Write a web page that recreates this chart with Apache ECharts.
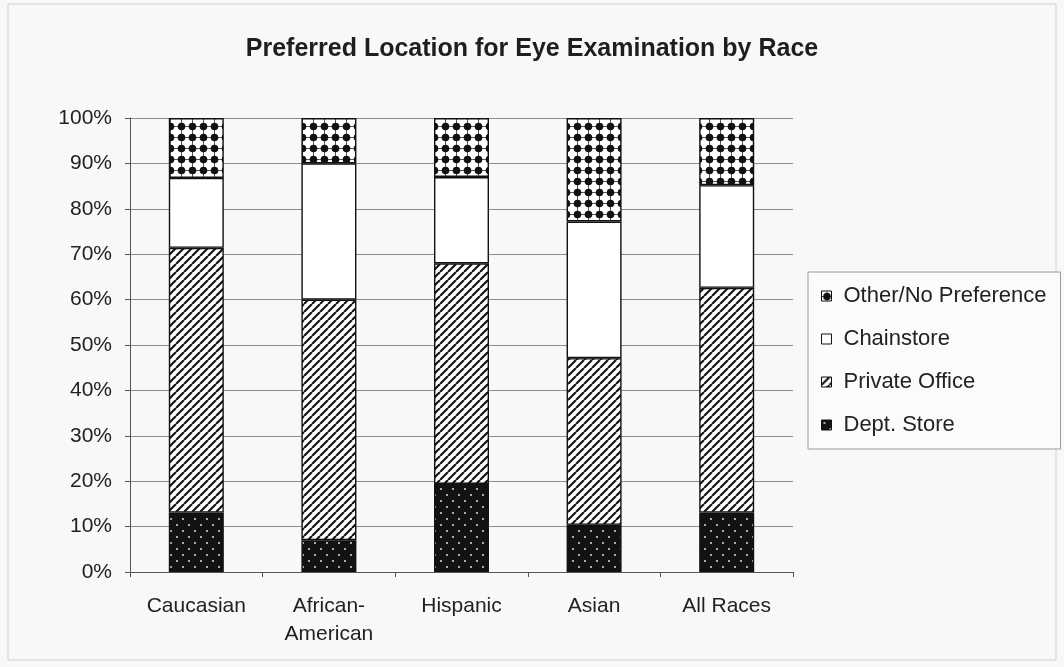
<!DOCTYPE html>
<html>
<head>
<meta charset="utf-8">
<script src="https://cdn.jsdelivr.net/npm/echarts@6/dist/echarts.min.js"></script>
<style>
  html, body { margin: 0; padding: 0; background: #f8f8f8; }
  #chart { width: 1064px; height: 667px; }
</style>
</head>
<body>
<div id="chart"></div>
<script>
// Survey shares (%) per race group
const categories = ['Caucasian', 'African-\nAmerican', 'Hispanic', 'Asian', 'All Races'];
const deptStore = [13.1, 7.0, 19.4, 10.4, 13.1];
const privateOffice = [58.3, 53.0, 48.6, 36.7, 49.5];
const chainstore = [15.4, 30.0, 19.0, 30.1, 22.6];
const otherNoPref = [13.2, 10.0, 13.0, 22.8, 14.8];
const seriesNames = ['Dept. Store', 'Private Office', 'Chainstore', 'Other/No Preference'];
const legendOrder = ['Other/No Preference', 'Chainstore', 'Private Office', 'Dept. Store'];
const yTicks = [0, 10, 20, 30, 40, 50, 60, 70, 80, 90, 100];

// Small canvas tiles used as repeating fills
function tile(w, h, draw) {
  const c = document.createElement('canvas');
  c.width = w; c.height = h;
  draw(c.getContext('2d'), w, h);
  return c;
}

const dotsOnBlack = tile(12, 12, (g, w, h) => {
  g.fillStyle = '#121212'; g.fillRect(0, 0, w, h);
  g.fillStyle = '#d8d8d8';
  [[3, 3], [9, 9]].forEach(([x, y]) => { g.beginPath(); g.arc(x, y, 1.05, 0, Math.PI * 2); g.fill(); });
});

const diagonal = tile(8, 8, (g, w, h) => {
  g.fillStyle = '#ffffff'; g.fillRect(0, 0, w, h);
  g.strokeStyle = '#111'; g.lineWidth = 2.1;
  [-8, 0, 8].forEach(x0 => { g.beginPath(); g.moveTo(x0, h); g.lineTo(x0 + w, 0); g.stroke(); });
});

const blackDots = tile(11, 11, (g, w, h) => {
  g.fillStyle = '#ffffff'; g.fillRect(0, 0, w, h);
  g.strokeStyle = '#555'; g.lineWidth = 1;
  g.beginPath(); g.moveTo(0, 5.5); g.lineTo(w, 5.5); g.moveTo(5.5, 0); g.lineTo(5.5, h); g.stroke();
  g.fillStyle = '#111';
  g.beginPath(); g.arc(5.5, 5.5, 3.8, 0, Math.PI * 2); g.fill();
});

const fills = [
  { image: dotsOnBlack, repeat: 'repeat' },
  { image: diagonal, repeat: 'repeat' },
  '#ffffff',
  { image: blackDots, repeat: 'repeat' }
];
const values = [deptStore, privateOffice, chainstore, otherNoPref];

const chart = echarts.init(document.getElementById('chart'), null, { renderer: 'canvas' });
const font = 'Liberation Sans, Arial, sans-serif';

chart.setOption({
  backgroundColor: '#f8f8f8',
  animation: false,
  title: {
    text: 'Preferred Location for Eye Examination by Race',
    left: 'center',
    top: 32,
    textStyle: { fontFamily: font, fontSize: 25, fontWeight: 'bold', color: '#1e1e1e' }
  },
  graphic: [{
    type: 'rect',
    shape: { x: 8, y: 4, width: 1048, height: 656 },
    style: { fill: 'none', stroke: '#d0d0d0', lineWidth: 1 },
    silent: true
  }],
  legend: {
    data: legendOrder,
    orient: 'vertical',
    left: 808,
    top: 272,
    padding: [13, 14, 13, 13],
    itemGap: 21,
    itemWidth: 10,
    itemHeight: 10,
    icon: 'rect',
    backgroundColor: '#fbfbfb',
    borderColor: '#9a9a9a',
    borderWidth: 1,
    textStyle: { fontFamily: font, fontSize: 22, color: '#222', padding: [0, 0, 0, 7] },
    itemStyle: { borderColor: '#111', borderWidth: 1 }
  },
  grid: { left: 130, right: 271, top: 118, bottom: 95, containLabel: false },
  xAxis: {
    type: 'category',
    data: categories,
    axisLine: { lineStyle: { color: '#555', width: 1 } },
    axisTick: { show: true, alignWithLabel: false, length: 5, lineStyle: { color: '#555' } },
    axisLabel: { fontFamily: font, fontSize: 21, color: '#222', margin: 20, lineHeight: 28 }
  },
  yAxis: {
    type: 'value',
    min: yTicks[0],
    max: yTicks[yTicks.length - 1],
    interval: 10,
    axisLine: { show: true, lineStyle: { color: '#555', width: 1 } },
    axisTick: { show: true, length: 5, lineStyle: { color: '#555' } },
    axisLabel: { fontFamily: font, fontSize: 21, color: '#222', margin: 18, formatter: '{value}%' },
    splitLine: { lineStyle: { color: '#8c8c8c', width: 1 } }
  },
  series: seriesNames.map((name, i) => ({
    name,
    type: 'bar',
    stack: 'total',
    barWidth: 55,
    data: values[i],
    itemStyle: { color: fills[i], borderColor: '#111', borderWidth: 1.4 }
  }))
});
</script>
</body>
</html>
